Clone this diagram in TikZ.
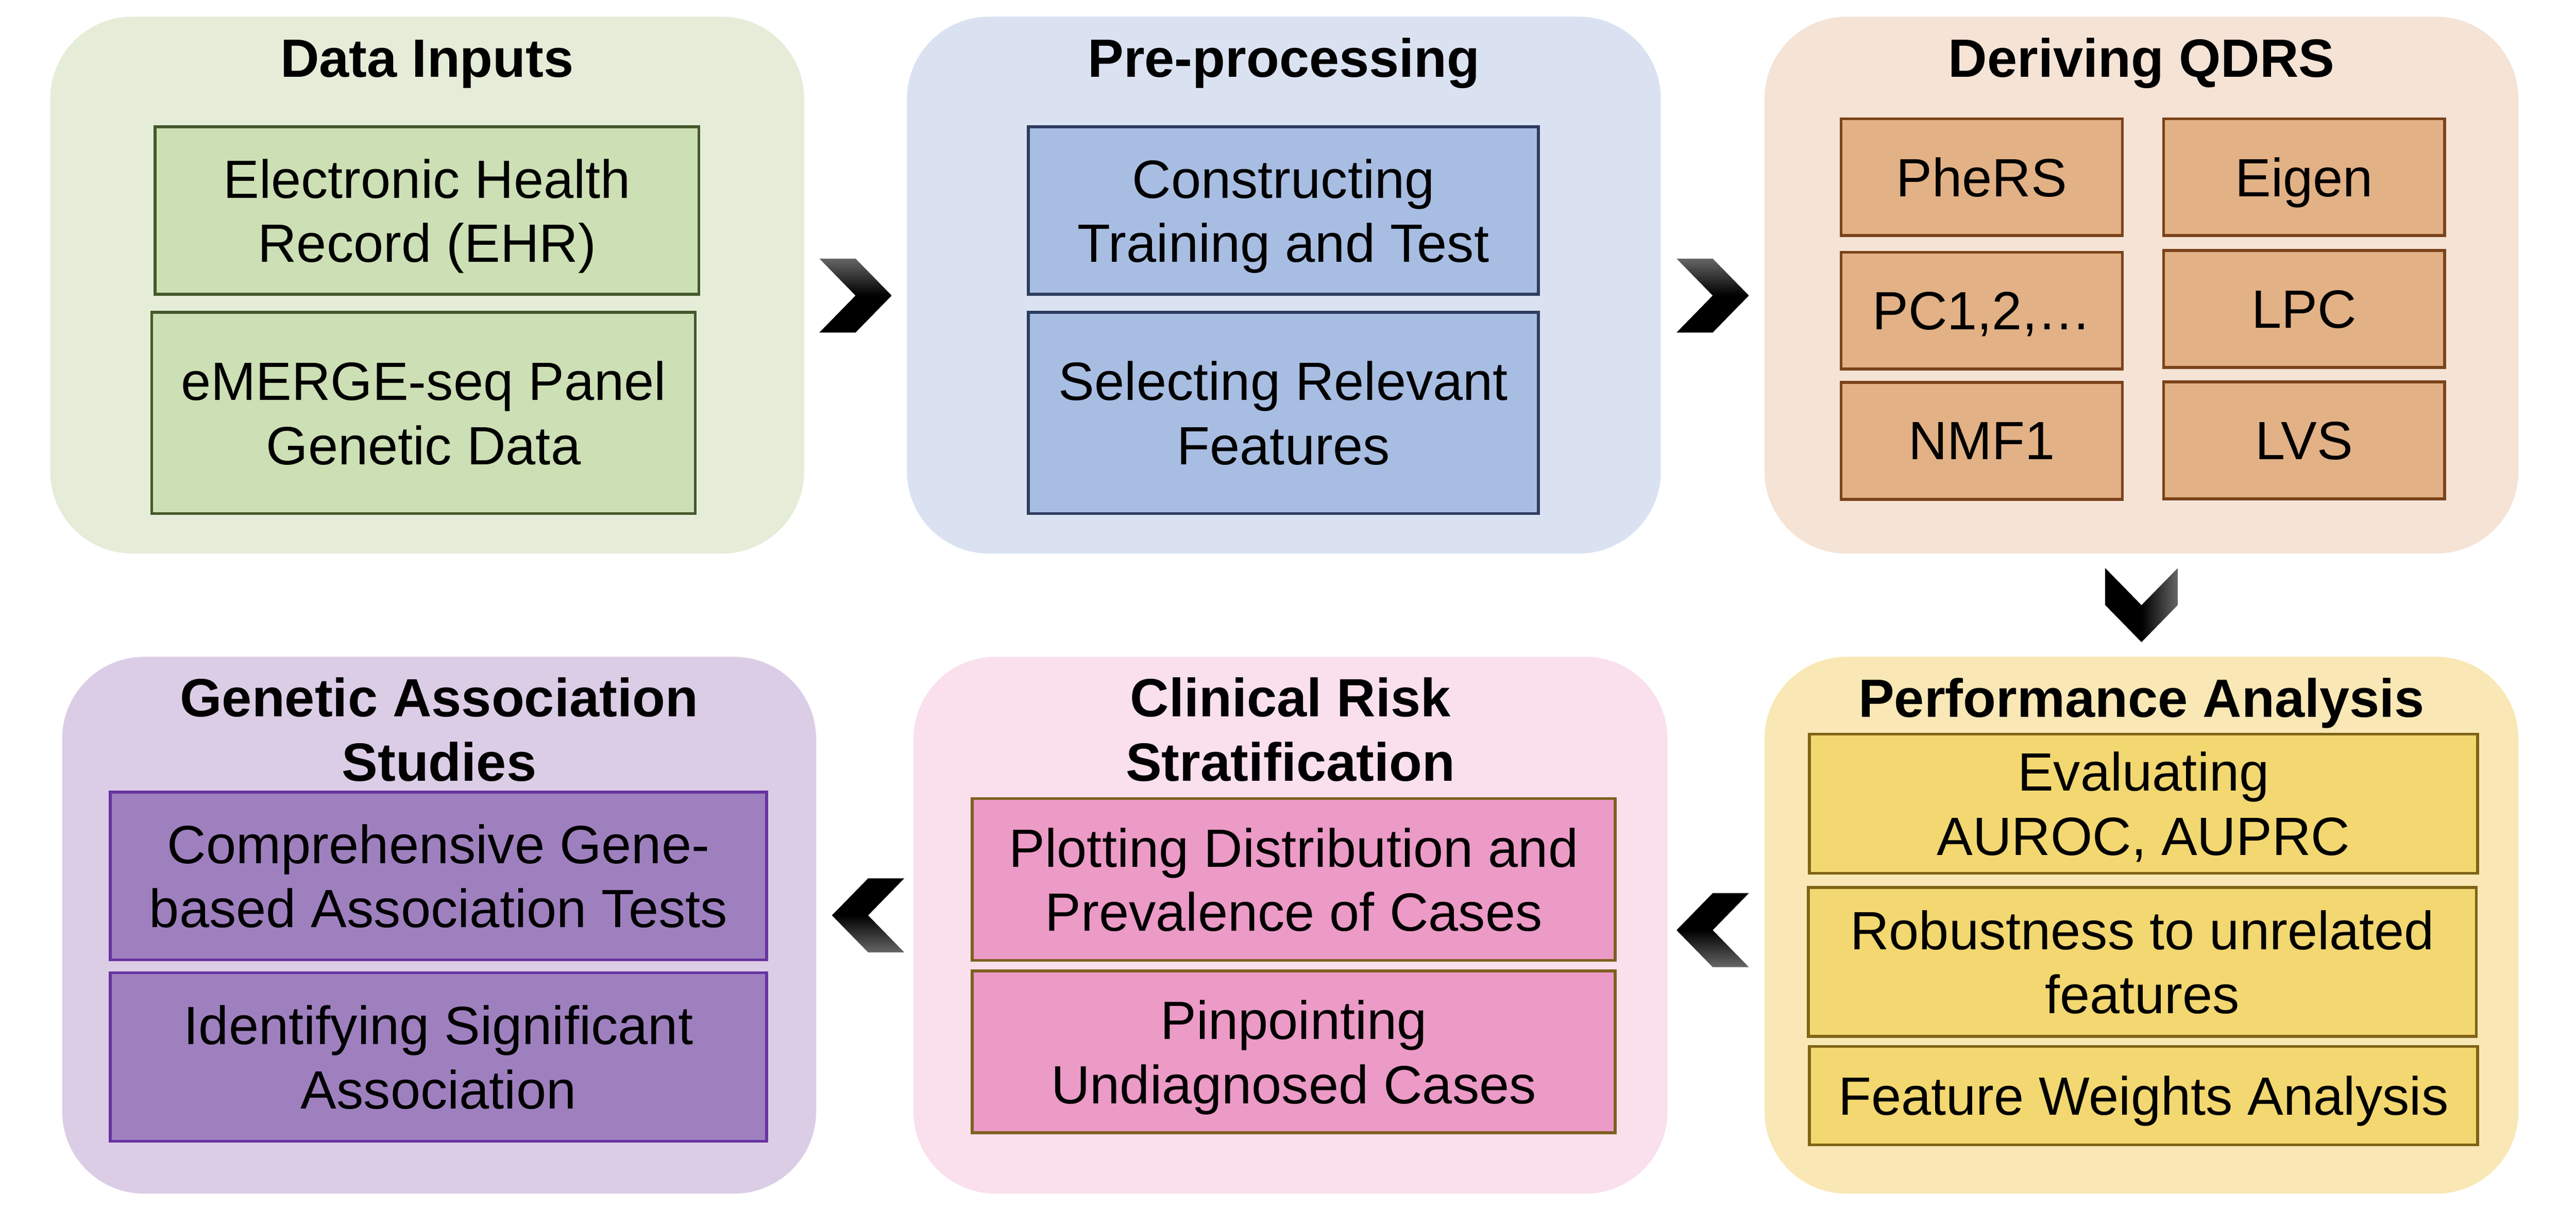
\documentclass[tikz,border=0pt]{standalone}
\usepackage{fontspec}
\setmainfont{Liberation Sans}
\usetikzlibrary{calc}
\definecolor{greenbg}{HTML}{E5EDD9}
\definecolor{greenbox}{HTML}{CDDFB4}
\definecolor{greenline}{HTML}{44592B}
\definecolor{bluebg}{HTML}{DAE2F2}
\definecolor{bluebox}{HTML}{A8BDE2}
\definecolor{blueline}{HTML}{2E3D5F}
\definecolor{orangebg}{HTML}{F5E3D6}
\definecolor{orangebox}{HTML}{E2B185}
\definecolor{orangeline}{HTML}{7B431B}
\definecolor{yellowbg}{HTML}{F9E8B5}
\definecolor{yellowbox}{HTML}{F3D770}
\definecolor{yellowline}{HTML}{7F6417}
\definecolor{pinkbg}{HTML}{F9E0EC}
\definecolor{pinkbox}{HTML}{EC9AC6}
\definecolor{pinkline}{HTML}{7F6020}
\definecolor{purplebg}{HTML}{DCCDE6}
\definecolor{purplebox}{HTML}{9F80BF}
\definecolor{purpleline}{HTML}{6633A0}
\begin{document}
\begin{tikzpicture}[x=0.045cm,y=-0.045cm]
\tikzstyle{panel}=[rounded corners=2.25cm,inner sep=0pt,minimum width=20.65cm,minimum height=14.7cm]
\tikzstyle{box}=[draw,line width=2.2pt,inner sep=0pt,align=center,text depth=0pt,font=\fontsize{42pt}{50pt}\selectfont]
\tikzstyle{title}=[anchor=base,align=center,inner sep=0pt,font=\fontsize{42pt}{50pt}\selectfont\bfseries]
\tikzstyle{chevright}=[top color=black!60,bottom color=black,middle color=black]
\tikzstyle{chevleft}=[top color=black,bottom color=black!60,middle color=black]
\tikzstyle{chevdown}=[left color=black,right color=black!60,middle color=black]
\useasboundingbox (0,0) rectangle (1568,735);

% panels
\path (260,173.5) node[panel,fill=greenbg](p1){}
      (781.5,173.5) node[panel,fill=bluebg](p2){}
      (1303.5,173.5) node[panel,fill=orangebg](p3){};
\path (1303.5,563) node[panel,fill=yellowbg](p4){}
      (785.5,563) node[panel,fill=pinkbg](p5){}
      (267.3,563) node[panel,fill=purplebg](p6){};

% Data Inputs
\path (260,46.8) node[title](t1){Data Inputs};
\path (259.9,128.1) node[box,fill=greenbox,draw=greenline,minimum width=14.89cm,minimum height=4.58cm](ehr){Electronic Health\\Record (EHR)};
\path (257.8,251.25) node[box,fill=greenbox,draw=greenline,minimum width=14.89cm,minimum height=5.51cm](emerge){eMERGE-seq Panel\\Genetic Data};

% Pre-processing
\path (781.5,47) node[title](t2){Pre-processing};
\path (781.2,128.1) node[box,fill=bluebox,draw=blueline,minimum width=13.97cm,minimum height=4.58cm](split){Constructing\\Training and Test};
\path (781.2,251.25) node[box,fill=bluebox,draw=blueline,minimum width=13.97cm,minimum height=5.51cm](select){Selecting Relevant\\Features};

% Deriving QDRS
\tikzstyle{score}=[box,fill=orangebox,draw=orangeline,minimum width=7.7cm,minimum height=3.2cm]
\path (1303.5,46.8) node[title](t3){Deriving QDRS};
\path (1206.25,107.8) node[score](phers){PheRS}
      (1402.5,107.8) node[score](eigen){Eigen}
      (1206.25,189) node[score](pc){PC1,2,\dots}
      (1402.5,188) node[score](lpc){LPC}
      (1206.25,268.3) node[score](nmf){NMF1}
      (1402.5,268) node[score](lvs){LVS};

% Performance Analysis
\path (1303.5,436.5) node[title](t4){Performance Analysis};
\path (1304.7,489) node[box,fill=yellowbox,draw=yellowline,minimum width=18.3cm,minimum height=3.81cm](auc){Evaluating\\AUROC, AUPRC};
\path (1304,585.3) node[box,fill=yellowbox,draw=yellowline,minimum width=18.3cm,minimum height=4.08cm](robust){Robustness to unrelated\\features};
\path (1304.7,666.7) node[box,fill=yellowbox,draw=yellowline,minimum width=18.3cm,minimum height=2.7cm](weights){Feature Weights Analysis};

% Clinical Risk Stratification
\path (785.5,475.2) node[title](t5){Clinical Risk\\Stratification};
\path (787.5,535.2) node[box,fill=pinkbox,draw=pinkline,minimum width=17.61cm,minimum height=4.43cm](plot){Plotting Distribution and\\Prevalence of Cases};
\path (787.5,640) node[box,fill=pinkbox,draw=pinkline,minimum width=17.61cm,minimum height=4.43cm](pinpoint){Pinpointing\\Undiagnosed Cases};

% Genetic Association Studies
\path (267.3,475.2) node[title](t6){Genetic Association\\Studies};
\path (266.9,533) node[box,fill=purplebox,draw=purpleline,minimum width=17.98cm,minimum height=4.59cm](gene){Comprehensive Gene-\\based Association Tests};
\path (266.9,643.2) node[box,fill=purplebox,draw=purpleline,minimum width=17.98cm,minimum height=4.61cm](signif){Identifying Significant\\Association};

% chevrons between the panels
\shade[chevright,shift={($(p1.east |- ehr.south)!0.5!(p2.west |- ehr.south)$)}] (-22,-22.5) -- (0,-22.5) -- (22,0) -- (0,22.5) -- (-22,22.5) -- (0,0) -- cycle;
\shade[chevright,shift={($(p2.east |- ehr.south)!0.5!(p3.west |- ehr.south)$)}] (-22,-22.5) -- (0,-22.5) -- (22,0) -- (0,22.5) -- (-22,22.5) -- (0,0) -- cycle;
\shade[chevdown,shift={($(p3.south)!0.5!(p4.north)$)}] (-22,-22.5) -- (0,0) -- (22,-22.5) -- (22,0) -- (0,22.5) -- (-22,0) -- cycle;
\shade[chevleft,shift={($(p5.east)!0.5!(p4.west)+(-2,3)$)}] (22,-22.5) -- (0,-22.5) -- (-22,0) -- (0,22.5) -- (22,22.5) -- (0,0) -- cycle;
\shade[chevleft,shift={($(p6.east)!0.5!(p5.west)+(2,-6)$)}] (22,-22.5) -- (0,-22.5) -- (-22,0) -- (0,22.5) -- (22,22.5) -- (0,0) -- cycle;
\end{tikzpicture}
\end{document}
